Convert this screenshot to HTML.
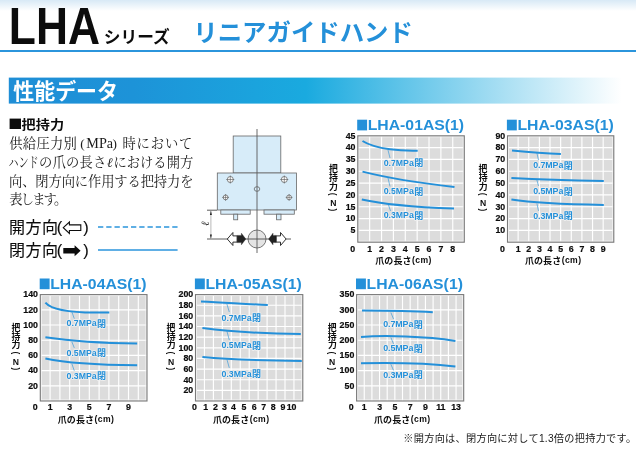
<!DOCTYPE html>
<html lang="ja"><head><meta charset="utf-8"><title>LHAシリーズ リニアガイドハンド 性能データ</title>
<style>
html,body{margin:0;padding:0;background:#fff}
body{font-family:"Liberation Sans",sans-serif}
#page{position:relative;width:636px;height:451px;overflow:hidden;background:#fff}
#page svg{position:absolute;left:0;top:0;will-change:transform}
.h{position:absolute;margin:0;padding:0;font-weight:400;color:transparent;white-space:nowrap;overflow:hidden;line-height:1.1;font-family:"Liberation Sans",sans-serif;pointer-events:none}
.v{writing-mode:vertical-rl}
</style></head><body>
<div id="page">
<svg width="636" height="451" viewBox="0 0 636 451">
<defs><linearGradient id="topg" x1="0" y1="0" x2="0" y2="1"><stop offset="0" stop-color="#d8e9f6"/><stop offset="1" stop-color="#ffffff"/></linearGradient><linearGradient id="barg" x1="0" y1="0" x2="1" y2="0"><stop offset="0" stop-color="#1f8ed6"/><stop offset="0.2" stop-color="#1d93d8"/><stop offset="0.48" stop-color="#1aaadf"/><stop offset="0.99" stop-color="#ffffff"/></linearGradient></defs>
<rect x="0" y="0" width="636" height="11" fill="url(#topg)"/>
<rect x="0" y="50" width="636" height="2" fill="#2b95dc"/>
<text x="8.8" y="43.7" font-family="'Liberation Sans', sans-serif" font-weight="700" font-size="52.4" fill="#0c0c0c" textLength="91.2" lengthAdjust="spacingAndGlyphs">LHA</text>
<text x="103.8" y="43.1" font-family="'Liberation Sans', 'Noto Sans CJK JP', sans-serif" font-weight="700" font-size="16.8" fill="#0c0c0c" textLength="65.9" lengthAdjust="spacingAndGlyphs">シリーズ</text>
<text x="193.3" y="41.3" font-family="'Liberation Sans', 'Noto Sans CJK JP', sans-serif" font-weight="700" font-size="24.4" fill="#2490d9" textLength="219.6" lengthAdjust="spacingAndGlyphs">リニアガイドハンド</text>
<rect x="8.8" y="77.6" width="619" height="26" fill="url(#barg)"/>
<text x="13.3" y="99.3" font-family="'Liberation Sans', 'Noto Sans CJK JP', sans-serif" font-weight="700" font-size="21.3" fill="#fff" textLength="104.6" lengthAdjust="spacingAndGlyphs">性能データ</text>
<rect x="9.6" y="118.6" width="11.4" height="10.4" fill="#0c0c0c"/>
<text x="21.6" y="128.9" font-family="'Liberation Sans', 'Noto Sans CJK JP', sans-serif" font-weight="700" font-size="12.6" fill="#0c0c0c" textLength="42.5" lengthAdjust="spacingAndGlyphs">把持力</text>
<g font-family="'Liberation Serif', 'Noto Serif CJK SC', serif" font-size="13.3" fill="#1a1a1a">
<text x="9.3" y="148" textLength="67.5" lengthAdjust="spacing">供給圧力別</text>
<text x="80.2" y="148">(</text>
</g>
<text x="86.3" y="147.7" font-family="Liberation Serif, serif" font-size="13.6" fill="#1a1a1a" textLength="26.8" lengthAdjust="spacingAndGlyphs">MPa</text>
<g font-family="'Liberation Serif', 'Noto Serif CJK SC', serif" font-size="13.3" fill="#1a1a1a">
<text x="112.6" y="148">)</text>
<text x="122.4" y="148" textLength="70" lengthAdjust="spacing">時において</text>
<text x="8.4" y="166.8" textLength="30.3" lengthAdjust="spacingAndGlyphs">ハンド</text>
<text x="38.9" y="166.8" textLength="67.4" lengthAdjust="spacing">の爪の長さ</text>
<text x="107" y="166.8" font-style="italic">ℓ</text>
<text x="113.4" y="166.8" textLength="79.9" lengthAdjust="spacing">における開方</text>
<text x="9" y="185.7" textLength="184.5" lengthAdjust="spacing">向、閉方向に作用する把持力を</text>
<text x="9.3" y="204.4" textLength="58" lengthAdjust="spacing">表します。</text>
</g>
<g font-family="'Liberation Sans', 'Noto Sans CJK JP', sans-serif" fill="#0c0c0c" stroke="#0c0c0c" stroke-width="0.12" stroke-linejoin="round">
<text x="8.9" y="233.2" font-size="16" textLength="49" lengthAdjust="spacing">開方向</text>
<text x="56.8" y="233.2" font-size="16.5">(</text>
<text x="83.2" y="233.2" font-size="16.5">)</text>
<text x="8.9" y="256.4" font-size="16" textLength="49" lengthAdjust="spacing">閉方向</text>
<text x="56.8" y="256.4" font-size="16.5">(</text>
<text x="83.2" y="256.4" font-size="16.5">)</text>
</g>
<path d="M63.3 227.7 L69.4 222 V224.9 H80.8 V230.5 H69.4 V233.4 Z" fill="#fff" stroke="#0c0c0c" stroke-width="1.1" stroke-linejoin="miter"/>
<path d="M63.3 248.1 H74.6 V245.3 L80.6 250.8 L74.6 256.3 V253.6 H63.3 Z" fill="#0c0c0c"/>
<line x1="98" y1="226.9" x2="177.6" y2="226.9" stroke="#2b95dc" stroke-width="1.5" stroke-dasharray="5.3 2.95"/>
<line x1="98" y1="249.9" x2="177.6" y2="249.9" stroke="#2b95dc" stroke-width="1.5"/>
<rect x="233.2" y="136" width="47.6" height="37" fill="#d7ecf9" stroke="#666" stroke-width="0.8"/><rect x="217.3" y="173" width="79.1" height="37" fill="#d7ecf9" stroke="#666" stroke-width="0.8"/><rect x="220.8" y="210" width="29.4" height="4.2" fill="#d7ecf9" stroke="#666" stroke-width="0.8"/><rect x="264" y="210" width="30.3" height="4.2" fill="#d7ecf9" stroke="#666" stroke-width="0.8"/><rect x="233.7" y="214.2" width="4" height="5.6" fill="#d7ecf9" stroke="#666" stroke-width="0.8"/><rect x="276.6" y="214.2" width="4.4" height="5.6" fill="#d7ecf9" stroke="#666" stroke-width="0.8"/><circle cx="230.3" cy="179.5" r="3.0" fill="#fff" stroke="#555" stroke-width="0.7"/><path d="M226.3 179.5h8.0 M230.3 175.5v8.0" stroke="#555" stroke-width="0.6"/><circle cx="284.3" cy="179.5" r="3.0" fill="#fff" stroke="#555" stroke-width="0.7"/><path d="M280.3 179.5h8.0 M284.3 175.5v8.0" stroke="#555" stroke-width="0.6"/><circle cx="225.6" cy="197.4" r="2.4" fill="#fff" stroke="#555" stroke-width="0.7"/><path d="M222.2 197.4h6.8 M225.6 194.0v6.8" stroke="#555" stroke-width="0.6"/><circle cx="289.1" cy="197.4" r="2.4" fill="#fff" stroke="#555" stroke-width="0.7"/><path d="M285.70000000000005 197.4h6.8 M289.1 194.0v6.8" stroke="#555" stroke-width="0.6"/><ellipse cx="257" cy="189" rx="2.8" ry="2.3" fill="#d7ecf9" stroke="#555" stroke-width="0.7"/><circle cx="257" cy="239" r="9" fill="#e4e4e4" stroke="#555" stroke-width="0.8"/><line x1="257" y1="129" x2="257" y2="253" stroke="#5a5a5a" stroke-width="0.9"/><line x1="207" y1="239" x2="291" y2="239" stroke="#4a4a4a" stroke-width="0.9"/><line x1="207" y1="210.2" x2="217" y2="210.2" stroke="#4a4a4a" stroke-width="0.9"/><line x1="210.9" y1="211" x2="210.9" y2="238.5" stroke="#888" stroke-width="0.6"/><path d="M210.9 210.7l-1 4.3h2z M210.9 238.8l-1 -4.3h2z" fill="#222"/><path d="M227.3 239 l5.6 -6.5 v3.4 h4.3 v6.2 h-4.3 v3.4z" fill="#fff" stroke="#1a1a1a" stroke-width="0.9"/><path d="M245.8 239 l-4.4 -5.8 v2.2 h-4.2 v7.2 h4.2 v2.2z" fill="#222" stroke="#222" stroke-width="0.4"/><path d="M268.6 239 l4.4 -5.8 v2.2 h3.2 v7.2 h-3.2 v2.2z" fill="#222" stroke="#222" stroke-width="0.4"/><path d="M286.1 239 l-5.6 -6.5 v3.4 h-4.3 v6.2 h4.3 v3.4z" fill="#fff" stroke="#1a1a1a" stroke-width="0.9"/><text transform="translate(209.0 226.6) rotate(-90)" x="0.5" y="0" font-family="'Liberation Serif', 'Noto Serif CJK SC', serif" font-style="italic" font-size="11" fill="#333">ℓ</text>
<rect x="357.8" y="135.8" width="106.5" height="106.4" fill="#dcdcdc"/><path d="M369.67 135.8V242.2M381.54 135.8V242.2M393.41 135.8V242.2M405.28 135.8V242.2M417.15 135.8V242.2M429.02 135.8V242.2M440.89 135.8V242.2M452.76 135.8V242.2M357.8 230.38H464.3M357.8 218.56H464.3M357.8 206.73H464.3M357.8 194.91H464.3M357.8 183.09H464.3M357.8 171.27H464.3M357.8 159.44H464.3M357.8 147.62H464.3" stroke="#fff" stroke-width="1.15" fill="none"/><rect x="358.8" y="136.8" width="104.5" height="104.4" fill="none" stroke="#f4f4f4" stroke-width="1"/><rect x="357.8" y="135.8" width="106.5" height="106.4" fill="none" stroke="#7a7a7a" stroke-width="1.1"/><text x="355.5" y="233.2" text-anchor="end" font-family="Liberation Sans, sans-serif" font-weight="700" font-size="8.8" fill="#0c0c0c" stroke="#0c0c0c" stroke-width="0.2">5</text><text x="355.5" y="221.4" text-anchor="end" font-family="Liberation Sans, sans-serif" font-weight="700" font-size="8.8" fill="#0c0c0c" stroke="#0c0c0c" stroke-width="0.2">10</text><text x="355.5" y="209.5" text-anchor="end" font-family="Liberation Sans, sans-serif" font-weight="700" font-size="8.8" fill="#0c0c0c" stroke="#0c0c0c" stroke-width="0.2">15</text><text x="355.5" y="197.7" text-anchor="end" font-family="Liberation Sans, sans-serif" font-weight="700" font-size="8.8" fill="#0c0c0c" stroke="#0c0c0c" stroke-width="0.2">20</text><text x="355.5" y="185.9" text-anchor="end" font-family="Liberation Sans, sans-serif" font-weight="700" font-size="8.8" fill="#0c0c0c" stroke="#0c0c0c" stroke-width="0.2">25</text><text x="355.5" y="174.1" text-anchor="end" font-family="Liberation Sans, sans-serif" font-weight="700" font-size="8.8" fill="#0c0c0c" stroke="#0c0c0c" stroke-width="0.2">30</text><text x="355.5" y="162.2" text-anchor="end" font-family="Liberation Sans, sans-serif" font-weight="700" font-size="8.8" fill="#0c0c0c" stroke="#0c0c0c" stroke-width="0.2">35</text><text x="355.5" y="150.4" text-anchor="end" font-family="Liberation Sans, sans-serif" font-weight="700" font-size="8.8" fill="#0c0c0c" stroke="#0c0c0c" stroke-width="0.2">40</text><text x="355.5" y="138.6" text-anchor="end" font-family="Liberation Sans, sans-serif" font-weight="700" font-size="8.8" fill="#0c0c0c" stroke="#0c0c0c" stroke-width="0.2">45</text><text x="369.7" y="251.6" text-anchor="middle" font-family="Liberation Sans, sans-serif" font-weight="700" font-size="8.8" fill="#0c0c0c" stroke="#0c0c0c" stroke-width="0.2">1</text><text x="381.5" y="251.6" text-anchor="middle" font-family="Liberation Sans, sans-serif" font-weight="700" font-size="8.8" fill="#0c0c0c" stroke="#0c0c0c" stroke-width="0.2">2</text><text x="393.4" y="251.6" text-anchor="middle" font-family="Liberation Sans, sans-serif" font-weight="700" font-size="8.8" fill="#0c0c0c" stroke="#0c0c0c" stroke-width="0.2">3</text><text x="405.3" y="251.6" text-anchor="middle" font-family="Liberation Sans, sans-serif" font-weight="700" font-size="8.8" fill="#0c0c0c" stroke="#0c0c0c" stroke-width="0.2">4</text><text x="417.1" y="251.6" text-anchor="middle" font-family="Liberation Sans, sans-serif" font-weight="700" font-size="8.8" fill="#0c0c0c" stroke="#0c0c0c" stroke-width="0.2">5</text><text x="429.0" y="251.6" text-anchor="middle" font-family="Liberation Sans, sans-serif" font-weight="700" font-size="8.8" fill="#0c0c0c" stroke="#0c0c0c" stroke-width="0.2">6</text><text x="440.9" y="251.6" text-anchor="middle" font-family="Liberation Sans, sans-serif" font-weight="700" font-size="8.8" fill="#0c0c0c" stroke="#0c0c0c" stroke-width="0.2">7</text><text x="452.8" y="251.6" text-anchor="middle" font-family="Liberation Sans, sans-serif" font-weight="700" font-size="8.8" fill="#0c0c0c" stroke="#0c0c0c" stroke-width="0.2">8</text><text x="352.8" y="251.6" text-anchor="middle" font-family="Liberation Sans, sans-serif" font-weight="700" font-size="8.8" fill="#0c0c0c" stroke="#0c0c0c" stroke-width="0.2">0</text><path d="M362.5 141 C368 144.5 378 147.6 390 149.2 S408 150.6 417.7 150.8" fill="none" stroke="#2490d9" stroke-width="2" stroke-linecap="butt"/><path d="M362.5 171.6 C380 176 410 182 454.5 187" fill="none" stroke="#2490d9" stroke-width="2" stroke-linecap="butt"/><path d="M361.8 199.4 C380 203.5 410 206.8 454 208.6" fill="none" stroke="#2490d9" stroke-width="2" stroke-linecap="butt"/>
<rect x="357.2" y="119.7" width="9.9" height="10.7" fill="#2490d9"/>
<text x="367.7" y="130.3" font-family="'Liberation Sans', sans-serif" font-weight="700" font-size="14.4" fill="#2490d9" textLength="96.4" lengthAdjust="spacingAndGlyphs">LHA-01AS(1)</text>
<text font-family="'Liberation Sans', 'Noto Sans CJK JP', sans-serif" font-weight="700" font-size="8.9" fill="#0c0c0c"><tspan x="328.9" y="172.4">把</tspan><tspan x="329.0" y="180.9">持</tspan><tspan x="329.1" y="189.5">力</tspan></text>
<text transform="translate(333.40 194.40) rotate(90)" x="-0.3" y="3.16" text-anchor="middle" font-family="'Liberation Sans', sans-serif" font-weight="700" font-size="8.3" fill="#0c0c0c">(</text>
<text transform="translate(333.40 210.20) rotate(90)" x="-0.25" y="3.16" text-anchor="middle" font-family="'Liberation Sans', sans-serif" font-weight="700" font-size="8.3" fill="#0c0c0c">)</text>
<text x="333.4" y="206.4" text-anchor="middle" font-family="Liberation Sans, sans-serif" font-weight="700" font-size="8.6" fill="#0c0c0c">N</text>
<text x="375.2" y="263.9" font-family="'Liberation Sans', 'Noto Sans CJK JP', sans-serif" font-weight="700" font-size="9" fill="#0c0c0c" textLength="36.3" lengthAdjust="spacing">爪の長さ</text>
<text x="412.0" y="263.4" font-family="Liberation Sans, sans-serif" font-weight="700" font-size="8.6" fill="#0c0c0c" textLength="19.3" lengthAdjust="spacing">(cm)</text>
<line x1="388.0" y1="150.0" x2="390.0" y2="158.0" stroke="#2490d9" stroke-width="0.6"/>
<text x="383.7" y="165.5" font-family="Liberation Sans, sans-serif" font-weight="700" font-size="8.9" fill="#2490d9" stroke="#efefef" stroke-width="1.6" stroke-linejoin="round" paint-order="stroke" textLength="30.2" lengthAdjust="spacing">0.7MPa</text>
<text x="414.17" y="166.1" font-family="'Liberation Sans', 'Noto Sans CJK JP', sans-serif" font-weight="700" font-size="9" fill="#2490d9" stroke="#efefef" stroke-width="1.6" stroke-linejoin="round" paint-order="stroke">閉</text>
<line x1="388.0" y1="178.0" x2="390.0" y2="186.5" stroke="#2490d9" stroke-width="0.6"/>
<text x="383.7" y="194.3" font-family="Liberation Sans, sans-serif" font-weight="700" font-size="8.9" fill="#2490d9" stroke="#efefef" stroke-width="1.6" stroke-linejoin="round" paint-order="stroke" textLength="30.2" lengthAdjust="spacing">0.5MPa</text>
<text x="414.17" y="194.9" font-family="'Liberation Sans', 'Noto Sans CJK JP', sans-serif" font-weight="700" font-size="9" fill="#2490d9" stroke="#efefef" stroke-width="1.6" stroke-linejoin="round" paint-order="stroke">閉</text>
<line x1="388.5" y1="205.0" x2="390.5" y2="211.0" stroke="#2490d9" stroke-width="0.6"/>
<text x="383.7" y="218.4" font-family="Liberation Sans, sans-serif" font-weight="700" font-size="8.9" fill="#2490d9" stroke="#efefef" stroke-width="1.6" stroke-linejoin="round" paint-order="stroke" textLength="30.2" lengthAdjust="spacing">0.3MPa</text>
<text x="414.17" y="219.0" font-family="'Liberation Sans', 'Noto Sans CJK JP', sans-serif" font-weight="700" font-size="9" fill="#2490d9" stroke="#efefef" stroke-width="1.6" stroke-linejoin="round" paint-order="stroke">閉</text>
<rect x="507.5" y="135.8" width="106.3" height="106.4" fill="#dcdcdc"/><path d="M518.13 135.8V242.2M528.76 135.8V242.2M539.39 135.8V242.2M550.02 135.8V242.2M560.65 135.8V242.2M571.28 135.8V242.2M581.91 135.8V242.2M592.54 135.8V242.2M603.17 135.8V242.2M507.5 230.38H613.8M507.5 218.56H613.8M507.5 206.73H613.8M507.5 194.91H613.8M507.5 183.09H613.8M507.5 171.27H613.8M507.5 159.44H613.8M507.5 147.62H613.8" stroke="#fff" stroke-width="1.15" fill="none"/><rect x="508.5" y="136.8" width="104.3" height="104.4" fill="none" stroke="#f4f4f4" stroke-width="1"/><rect x="507.5" y="135.8" width="106.3" height="106.4" fill="none" stroke="#7a7a7a" stroke-width="1.1"/><text x="505.2" y="233.2" text-anchor="end" font-family="Liberation Sans, sans-serif" font-weight="700" font-size="8.8" fill="#0c0c0c" stroke="#0c0c0c" stroke-width="0.2">10</text><text x="505.2" y="221.4" text-anchor="end" font-family="Liberation Sans, sans-serif" font-weight="700" font-size="8.8" fill="#0c0c0c" stroke="#0c0c0c" stroke-width="0.2">20</text><text x="505.2" y="209.5" text-anchor="end" font-family="Liberation Sans, sans-serif" font-weight="700" font-size="8.8" fill="#0c0c0c" stroke="#0c0c0c" stroke-width="0.2">30</text><text x="505.2" y="197.7" text-anchor="end" font-family="Liberation Sans, sans-serif" font-weight="700" font-size="8.8" fill="#0c0c0c" stroke="#0c0c0c" stroke-width="0.2">40</text><text x="505.2" y="185.9" text-anchor="end" font-family="Liberation Sans, sans-serif" font-weight="700" font-size="8.8" fill="#0c0c0c" stroke="#0c0c0c" stroke-width="0.2">50</text><text x="505.2" y="174.1" text-anchor="end" font-family="Liberation Sans, sans-serif" font-weight="700" font-size="8.8" fill="#0c0c0c" stroke="#0c0c0c" stroke-width="0.2">60</text><text x="505.2" y="162.2" text-anchor="end" font-family="Liberation Sans, sans-serif" font-weight="700" font-size="8.8" fill="#0c0c0c" stroke="#0c0c0c" stroke-width="0.2">70</text><text x="505.2" y="150.4" text-anchor="end" font-family="Liberation Sans, sans-serif" font-weight="700" font-size="8.8" fill="#0c0c0c" stroke="#0c0c0c" stroke-width="0.2">80</text><text x="505.2" y="138.6" text-anchor="end" font-family="Liberation Sans, sans-serif" font-weight="700" font-size="8.8" fill="#0c0c0c" stroke="#0c0c0c" stroke-width="0.2">90</text><text x="518.1" y="251.6" text-anchor="middle" font-family="Liberation Sans, sans-serif" font-weight="700" font-size="8.8" fill="#0c0c0c" stroke="#0c0c0c" stroke-width="0.2">1</text><text x="528.8" y="251.6" text-anchor="middle" font-family="Liberation Sans, sans-serif" font-weight="700" font-size="8.8" fill="#0c0c0c" stroke="#0c0c0c" stroke-width="0.2">2</text><text x="539.4" y="251.6" text-anchor="middle" font-family="Liberation Sans, sans-serif" font-weight="700" font-size="8.8" fill="#0c0c0c" stroke="#0c0c0c" stroke-width="0.2">3</text><text x="550.0" y="251.6" text-anchor="middle" font-family="Liberation Sans, sans-serif" font-weight="700" font-size="8.8" fill="#0c0c0c" stroke="#0c0c0c" stroke-width="0.2">4</text><text x="560.6" y="251.6" text-anchor="middle" font-family="Liberation Sans, sans-serif" font-weight="700" font-size="8.8" fill="#0c0c0c" stroke="#0c0c0c" stroke-width="0.2">5</text><text x="571.3" y="251.6" text-anchor="middle" font-family="Liberation Sans, sans-serif" font-weight="700" font-size="8.8" fill="#0c0c0c" stroke="#0c0c0c" stroke-width="0.2">6</text><text x="581.9" y="251.6" text-anchor="middle" font-family="Liberation Sans, sans-serif" font-weight="700" font-size="8.8" fill="#0c0c0c" stroke="#0c0c0c" stroke-width="0.2">7</text><text x="592.5" y="251.6" text-anchor="middle" font-family="Liberation Sans, sans-serif" font-weight="700" font-size="8.8" fill="#0c0c0c" stroke="#0c0c0c" stroke-width="0.2">8</text><text x="603.2" y="251.6" text-anchor="middle" font-family="Liberation Sans, sans-serif" font-weight="700" font-size="8.8" fill="#0c0c0c" stroke="#0c0c0c" stroke-width="0.2">9</text><text x="502.5" y="251.6" text-anchor="middle" font-family="Liberation Sans, sans-serif" font-weight="700" font-size="8.8" fill="#0c0c0c" stroke="#0c0c0c" stroke-width="0.2">0</text><path d="M512 150.4 C528 152 545 153.4 560.9 154" fill="none" stroke="#2490d9" stroke-width="2" stroke-linecap="butt"/><path d="M511.4 177.9 C540 179.4 570 180.3 603.8 180.9" fill="none" stroke="#2490d9" stroke-width="2" stroke-linecap="butt"/><path d="M511.4 199.5 C530 202.5 565 204.3 603.8 204.9" fill="none" stroke="#2490d9" stroke-width="2" stroke-linecap="butt"/>
<rect x="506.9" y="119.7" width="9.9" height="10.7" fill="#2490d9"/>
<text x="517.4" y="130.3" font-family="'Liberation Sans', sans-serif" font-weight="700" font-size="14.4" fill="#2490d9" textLength="96.4" lengthAdjust="spacingAndGlyphs">LHA-03AS(1)</text>
<text font-family="'Liberation Sans', 'Noto Sans CJK JP', sans-serif" font-weight="700" font-size="8.9" fill="#0c0c0c"><tspan x="478.6" y="172.4">把</tspan><tspan x="478.7" y="180.9">持</tspan><tspan x="478.8" y="189.5">力</tspan></text>
<text transform="translate(483.10 194.40) rotate(90)" x="-0.3" y="3.16" text-anchor="middle" font-family="'Liberation Sans', sans-serif" font-weight="700" font-size="8.3" fill="#0c0c0c">(</text>
<text transform="translate(483.10 210.20) rotate(90)" x="-0.25" y="3.16" text-anchor="middle" font-family="'Liberation Sans', sans-serif" font-weight="700" font-size="8.3" fill="#0c0c0c">)</text>
<text x="483.1" y="206.4" text-anchor="middle" font-family="Liberation Sans, sans-serif" font-weight="700" font-size="8.6" fill="#0c0c0c">N</text>
<text x="524.9" y="263.9" font-family="'Liberation Sans', 'Noto Sans CJK JP', sans-serif" font-weight="700" font-size="9" fill="#0c0c0c" textLength="36.3" lengthAdjust="spacing">爪の長さ</text>
<text x="561.7" y="263.4" font-family="Liberation Sans, sans-serif" font-weight="700" font-size="8.6" fill="#0c0c0c" textLength="19.3" lengthAdjust="spacing">(cm)</text>
<line x1="536.9" y1="153.0" x2="538.5" y2="160.0" stroke="#2490d9" stroke-width="0.6"/>
<text x="533.2" y="167.9" font-family="Liberation Sans, sans-serif" font-weight="700" font-size="8.9" fill="#2490d9" stroke="#efefef" stroke-width="1.6" stroke-linejoin="round" paint-order="stroke" textLength="30.2" lengthAdjust="spacing">0.7MPa</text>
<text x="563.67" y="168.5" font-family="'Liberation Sans', 'Noto Sans CJK JP', sans-serif" font-weight="700" font-size="9" fill="#2490d9" stroke="#efefef" stroke-width="1.6" stroke-linejoin="round" paint-order="stroke">閉</text>
<line x1="536.9" y1="180.0" x2="538.5" y2="186.0" stroke="#2490d9" stroke-width="0.6"/>
<text x="533.2" y="193.9" font-family="Liberation Sans, sans-serif" font-weight="700" font-size="8.9" fill="#2490d9" stroke="#efefef" stroke-width="1.6" stroke-linejoin="round" paint-order="stroke" textLength="30.2" lengthAdjust="spacing">0.5MPa</text>
<text x="563.67" y="194.5" font-family="'Liberation Sans', 'Noto Sans CJK JP', sans-serif" font-weight="700" font-size="9" fill="#2490d9" stroke="#efefef" stroke-width="1.6" stroke-linejoin="round" paint-order="stroke">閉</text>
<line x1="536.9" y1="203.5" x2="538.5" y2="210.9" stroke="#2490d9" stroke-width="0.6"/>
<text x="533.2" y="218.8" font-family="Liberation Sans, sans-serif" font-weight="700" font-size="8.9" fill="#2490d9" stroke="#efefef" stroke-width="1.6" stroke-linejoin="round" paint-order="stroke" textLength="30.2" lengthAdjust="spacing">0.3MPa</text>
<text x="563.67" y="219.4" font-family="'Liberation Sans', 'Noto Sans CJK JP', sans-serif" font-weight="700" font-size="9" fill="#2490d9" stroke="#efefef" stroke-width="1.6" stroke-linejoin="round" paint-order="stroke">閉</text>
<rect x="40.3" y="294.6" width="106.7" height="106.4" fill="#dcdcdc"/><path d="M50.10 294.6V401.0M59.90 294.6V401.0M69.70 294.6V401.0M79.50 294.6V401.0M89.30 294.6V401.0M99.10 294.6V401.0M108.90 294.6V401.0M118.70 294.6V401.0M128.50 294.6V401.0M138.30 294.6V401.0M40.3 385.80H147.0M40.3 370.60H147.0M40.3 355.40H147.0M40.3 340.20H147.0M40.3 325.00H147.0M40.3 309.80H147.0" stroke="#fff" stroke-width="1.15" fill="none"/><rect x="41.3" y="295.6" width="104.7" height="104.4" fill="none" stroke="#f4f4f4" stroke-width="1"/><rect x="40.3" y="294.6" width="106.7" height="106.4" fill="none" stroke="#7a7a7a" stroke-width="1.1"/><text x="38.0" y="388.6" text-anchor="end" font-family="Liberation Sans, sans-serif" font-weight="700" font-size="8.8" fill="#0c0c0c" stroke="#0c0c0c" stroke-width="0.2">20</text><text x="38.0" y="373.4" text-anchor="end" font-family="Liberation Sans, sans-serif" font-weight="700" font-size="8.8" fill="#0c0c0c" stroke="#0c0c0c" stroke-width="0.2">40</text><text x="38.0" y="358.2" text-anchor="end" font-family="Liberation Sans, sans-serif" font-weight="700" font-size="8.8" fill="#0c0c0c" stroke="#0c0c0c" stroke-width="0.2">60</text><text x="38.0" y="343.0" text-anchor="end" font-family="Liberation Sans, sans-serif" font-weight="700" font-size="8.8" fill="#0c0c0c" stroke="#0c0c0c" stroke-width="0.2">80</text><text x="38.0" y="327.8" text-anchor="end" font-family="Liberation Sans, sans-serif" font-weight="700" font-size="8.8" fill="#0c0c0c" stroke="#0c0c0c" stroke-width="0.2">100</text><text x="38.0" y="312.6" text-anchor="end" font-family="Liberation Sans, sans-serif" font-weight="700" font-size="8.8" fill="#0c0c0c" stroke="#0c0c0c" stroke-width="0.2">120</text><text x="38.0" y="297.4" text-anchor="end" font-family="Liberation Sans, sans-serif" font-weight="700" font-size="8.8" fill="#0c0c0c" stroke="#0c0c0c" stroke-width="0.2">140</text><text x="50.1" y="409.8" text-anchor="middle" font-family="Liberation Sans, sans-serif" font-weight="700" font-size="8.8" fill="#0c0c0c" stroke="#0c0c0c" stroke-width="0.2">1</text><text x="69.7" y="409.8" text-anchor="middle" font-family="Liberation Sans, sans-serif" font-weight="700" font-size="8.8" fill="#0c0c0c" stroke="#0c0c0c" stroke-width="0.2">3</text><text x="89.3" y="409.8" text-anchor="middle" font-family="Liberation Sans, sans-serif" font-weight="700" font-size="8.8" fill="#0c0c0c" stroke="#0c0c0c" stroke-width="0.2">5</text><text x="108.9" y="409.8" text-anchor="middle" font-family="Liberation Sans, sans-serif" font-weight="700" font-size="8.8" fill="#0c0c0c" stroke="#0c0c0c" stroke-width="0.2">7</text><text x="128.5" y="409.8" text-anchor="middle" font-family="Liberation Sans, sans-serif" font-weight="700" font-size="8.8" fill="#0c0c0c" stroke="#0c0c0c" stroke-width="0.2">9</text><text x="35.3" y="409.8" text-anchor="middle" font-family="Liberation Sans, sans-serif" font-weight="700" font-size="8.8" fill="#0c0c0c" stroke="#0c0c0c" stroke-width="0.2">0</text><path d="M45.4 302.6 C50 308 62 312.4 94.9 312.6 L109.3 312.6" fill="none" stroke="#2490d9" stroke-width="2" stroke-linecap="butt"/><path d="M45.4 337.3 C70 341 100 343.2 137.2 343.5" fill="none" stroke="#2490d9" stroke-width="2" stroke-linecap="butt"/><path d="M45.4 358.5 C65 362.8 100 365 137.2 365.3" fill="none" stroke="#2490d9" stroke-width="2" stroke-linecap="butt"/>
<rect x="39.7" y="278.5" width="9.9" height="10.7" fill="#2490d9"/>
<text x="50.2" y="289.1" font-family="'Liberation Sans', sans-serif" font-weight="700" font-size="14.4" fill="#2490d9" textLength="96.4" lengthAdjust="spacingAndGlyphs">LHA-04AS(1)</text>
<text font-family="'Liberation Sans', 'Noto Sans CJK JP', sans-serif" font-weight="700" font-size="8.9" fill="#0c0c0c"><tspan x="11.4" y="331.2">把</tspan><tspan x="11.5" y="339.7">持</tspan><tspan x="11.6" y="348.3">力</tspan></text>
<text transform="translate(15.90 353.20) rotate(90)" x="-0.3" y="3.16" text-anchor="middle" font-family="'Liberation Sans', sans-serif" font-weight="700" font-size="8.3" fill="#0c0c0c">(</text>
<text transform="translate(15.90 369.00) rotate(90)" x="-0.25" y="3.16" text-anchor="middle" font-family="'Liberation Sans', sans-serif" font-weight="700" font-size="8.3" fill="#0c0c0c">)</text>
<text x="15.9" y="365.2" text-anchor="middle" font-family="Liberation Sans, sans-serif" font-weight="700" font-size="8.6" fill="#0c0c0c">N</text>
<text x="57.7" y="422.7" font-family="'Liberation Sans', 'Noto Sans CJK JP', sans-serif" font-weight="700" font-size="9" fill="#0c0c0c" textLength="36.3" lengthAdjust="spacing">爪の長さ</text>
<text x="94.5" y="422.2" font-family="Liberation Sans, sans-serif" font-weight="700" font-size="8.6" fill="#0c0c0c" textLength="19.3" lengthAdjust="spacing">(cm)</text>
<line x1="71.9" y1="312.0" x2="74.3" y2="318.6" stroke="#2490d9" stroke-width="0.6"/>
<text x="66.6" y="326.3" font-family="Liberation Sans, sans-serif" font-weight="700" font-size="8.9" fill="#2490d9" stroke="#efefef" stroke-width="1.6" stroke-linejoin="round" paint-order="stroke" textLength="30.2" lengthAdjust="spacing">0.7MPa</text>
<text x="97.07" y="326.9" font-family="'Liberation Sans', 'Noto Sans CJK JP', sans-serif" font-weight="700" font-size="9" fill="#2490d9" stroke="#efefef" stroke-width="1.6" stroke-linejoin="round" paint-order="stroke">閉</text>
<line x1="71.9" y1="341.9" x2="74.3" y2="347.9" stroke="#2490d9" stroke-width="0.6"/>
<text x="66.6" y="355.5" font-family="Liberation Sans, sans-serif" font-weight="700" font-size="8.9" fill="#2490d9" stroke="#efefef" stroke-width="1.6" stroke-linejoin="round" paint-order="stroke" textLength="30.2" lengthAdjust="spacing">0.5MPa</text>
<text x="97.07" y="356.1" font-family="'Liberation Sans', 'Noto Sans CJK JP', sans-serif" font-weight="700" font-size="9" fill="#2490d9" stroke="#efefef" stroke-width="1.6" stroke-linejoin="round" paint-order="stroke">閉</text>
<line x1="71.9" y1="363.9" x2="74.3" y2="370.8" stroke="#2490d9" stroke-width="0.6"/>
<text x="66.6" y="378.8" font-family="Liberation Sans, sans-serif" font-weight="700" font-size="8.9" fill="#2490d9" stroke="#efefef" stroke-width="1.6" stroke-linejoin="round" paint-order="stroke" textLength="30.2" lengthAdjust="spacing">0.3MPa</text>
<text x="97.07" y="379.4" font-family="'Liberation Sans', 'Noto Sans CJK JP', sans-serif" font-weight="700" font-size="9" fill="#2490d9" stroke="#efefef" stroke-width="1.6" stroke-linejoin="round" paint-order="stroke">閉</text>
<rect x="195.5" y="294.6" width="107.3" height="106.4" fill="#dcdcdc"/><path d="M204.45 294.6V401.0M213.40 294.6V401.0M222.35 294.6V401.0M231.30 294.6V401.0M240.25 294.6V401.0M249.20 294.6V401.0M258.15 294.6V401.0M267.10 294.6V401.0M276.05 294.6V401.0M285.00 294.6V401.0M293.95 294.6V401.0M195.5 390.36H302.8M195.5 379.72H302.8M195.5 369.08H302.8M195.5 358.44H302.8M195.5 347.80H302.8M195.5 337.16H302.8M195.5 326.52H302.8M195.5 315.88H302.8M195.5 305.24H302.8" stroke="#fff" stroke-width="1.15" fill="none"/><rect x="196.5" y="295.6" width="105.3" height="104.4" fill="none" stroke="#f4f4f4" stroke-width="1"/><rect x="195.5" y="294.6" width="107.3" height="106.4" fill="none" stroke="#7a7a7a" stroke-width="1.1"/><text x="193.2" y="393.2" text-anchor="end" font-family="Liberation Sans, sans-serif" font-weight="700" font-size="8.8" fill="#0c0c0c" stroke="#0c0c0c" stroke-width="0.2">20</text><text x="193.2" y="382.5" text-anchor="end" font-family="Liberation Sans, sans-serif" font-weight="700" font-size="8.8" fill="#0c0c0c" stroke="#0c0c0c" stroke-width="0.2">40</text><text x="193.2" y="371.9" text-anchor="end" font-family="Liberation Sans, sans-serif" font-weight="700" font-size="8.8" fill="#0c0c0c" stroke="#0c0c0c" stroke-width="0.2">60</text><text x="193.2" y="361.2" text-anchor="end" font-family="Liberation Sans, sans-serif" font-weight="700" font-size="8.8" fill="#0c0c0c" stroke="#0c0c0c" stroke-width="0.2">80</text><text x="193.2" y="350.6" text-anchor="end" font-family="Liberation Sans, sans-serif" font-weight="700" font-size="8.8" fill="#0c0c0c" stroke="#0c0c0c" stroke-width="0.2">100</text><text x="193.2" y="340.0" text-anchor="end" font-family="Liberation Sans, sans-serif" font-weight="700" font-size="8.8" fill="#0c0c0c" stroke="#0c0c0c" stroke-width="0.2">120</text><text x="193.2" y="329.3" text-anchor="end" font-family="Liberation Sans, sans-serif" font-weight="700" font-size="8.8" fill="#0c0c0c" stroke="#0c0c0c" stroke-width="0.2">140</text><text x="193.2" y="318.7" text-anchor="end" font-family="Liberation Sans, sans-serif" font-weight="700" font-size="8.8" fill="#0c0c0c" stroke="#0c0c0c" stroke-width="0.2">160</text><text x="193.2" y="308.0" text-anchor="end" font-family="Liberation Sans, sans-serif" font-weight="700" font-size="8.8" fill="#0c0c0c" stroke="#0c0c0c" stroke-width="0.2">180</text><text x="193.2" y="297.4" text-anchor="end" font-family="Liberation Sans, sans-serif" font-weight="700" font-size="8.8" fill="#0c0c0c" stroke="#0c0c0c" stroke-width="0.2">200</text><text x="205.8" y="409.8" text-anchor="middle" font-family="Liberation Sans, sans-serif" font-weight="700" font-size="8.8" fill="#0c0c0c" stroke="#0c0c0c" stroke-width="0.2">1</text><text x="215.4" y="409.8" text-anchor="middle" font-family="Liberation Sans, sans-serif" font-weight="700" font-size="8.8" fill="#0c0c0c" stroke="#0c0c0c" stroke-width="0.2">2</text><text x="224.5" y="409.8" text-anchor="middle" font-family="Liberation Sans, sans-serif" font-weight="700" font-size="8.8" fill="#0c0c0c" stroke="#0c0c0c" stroke-width="0.2">3</text><text x="233.5" y="409.8" text-anchor="middle" font-family="Liberation Sans, sans-serif" font-weight="700" font-size="8.8" fill="#0c0c0c" stroke="#0c0c0c" stroke-width="0.2">4</text><text x="244.0" y="409.8" text-anchor="middle" font-family="Liberation Sans, sans-serif" font-weight="700" font-size="8.8" fill="#0c0c0c" stroke="#0c0c0c" stroke-width="0.2">5</text><text x="254.2" y="409.8" text-anchor="middle" font-family="Liberation Sans, sans-serif" font-weight="700" font-size="8.8" fill="#0c0c0c" stroke="#0c0c0c" stroke-width="0.2">6</text><text x="263.6" y="409.8" text-anchor="middle" font-family="Liberation Sans, sans-serif" font-weight="700" font-size="8.8" fill="#0c0c0c" stroke="#0c0c0c" stroke-width="0.2">7</text><text x="273.1" y="409.8" text-anchor="middle" font-family="Liberation Sans, sans-serif" font-weight="700" font-size="8.8" fill="#0c0c0c" stroke="#0c0c0c" stroke-width="0.2">8</text><text x="282.9" y="409.8" text-anchor="middle" font-family="Liberation Sans, sans-serif" font-weight="700" font-size="8.8" fill="#0c0c0c" stroke="#0c0c0c" stroke-width="0.2">9</text><text x="291.6" y="409.8" text-anchor="middle" font-family="Liberation Sans, sans-serif" font-weight="700" font-size="8.8" fill="#0c0c0c" stroke="#0c0c0c" stroke-width="0.2">10</text><text x="194.5" y="409.8" text-anchor="middle" font-family="Liberation Sans, sans-serif" font-weight="700" font-size="8.8" fill="#0c0c0c" stroke="#0c0c0c" stroke-width="0.2">0</text><path d="M201 301.4 C225 302.5 245 304 267.8 305" fill="none" stroke="#2490d9" stroke-width="2" stroke-linecap="butt"/><path d="M202.4 327.9 C230 331.5 265 333.6 300.8 334.1" fill="none" stroke="#2490d9" stroke-width="2" stroke-linecap="butt"/><path d="M202.4 356.9 C230 359.6 265 360.6 301.8 360.9" fill="none" stroke="#2490d9" stroke-width="2" stroke-linecap="butt"/>
<rect x="194.9" y="278.5" width="9.9" height="10.7" fill="#2490d9"/>
<text x="205.4" y="289.1" font-family="'Liberation Sans', sans-serif" font-weight="700" font-size="14.4" fill="#2490d9" textLength="96.4" lengthAdjust="spacingAndGlyphs">LHA-05AS(1)</text>
<text font-family="'Liberation Sans', 'Noto Sans CJK JP', sans-serif" font-weight="700" font-size="8.9" fill="#0c0c0c"><tspan x="166.6" y="331.2">把</tspan><tspan x="166.7" y="339.7">持</tspan><tspan x="166.8" y="348.3">力</tspan></text>
<text transform="translate(171.10 353.20) rotate(90)" x="-0.3" y="3.16" text-anchor="middle" font-family="'Liberation Sans', sans-serif" font-weight="700" font-size="8.3" fill="#0c0c0c">(</text>
<text transform="translate(171.10 369.00) rotate(90)" x="-0.25" y="3.16" text-anchor="middle" font-family="'Liberation Sans', sans-serif" font-weight="700" font-size="8.3" fill="#0c0c0c">)</text>
<text x="171.1" y="365.2" text-anchor="middle" font-family="Liberation Sans, sans-serif" font-weight="700" font-size="8.6" fill="#0c0c0c">N</text>
<text x="212.9" y="422.7" font-family="'Liberation Sans', 'Noto Sans CJK JP', sans-serif" font-weight="700" font-size="9" fill="#0c0c0c" textLength="36.3" lengthAdjust="spacing">爪の長さ</text>
<text x="249.7" y="422.2" font-family="Liberation Sans, sans-serif" font-weight="700" font-size="8.6" fill="#0c0c0c" textLength="19.3" lengthAdjust="spacing">(cm)</text>
<line x1="226.9" y1="304.0" x2="229.3" y2="312.0" stroke="#2490d9" stroke-width="0.6"/>
<text x="221.6" y="320.5" font-family="Liberation Sans, sans-serif" font-weight="700" font-size="8.9" fill="#2490d9" stroke="#efefef" stroke-width="1.6" stroke-linejoin="round" paint-order="stroke" textLength="30.2" lengthAdjust="spacing">0.7MPa</text>
<text x="252.07" y="321.1" font-family="'Liberation Sans', 'Noto Sans CJK JP', sans-serif" font-weight="700" font-size="9" fill="#2490d9" stroke="#efefef" stroke-width="1.6" stroke-linejoin="round" paint-order="stroke">閉</text>
<line x1="226.9" y1="331.0" x2="229.3" y2="340.0" stroke="#2490d9" stroke-width="0.6"/>
<text x="221.6" y="348.3" font-family="Liberation Sans, sans-serif" font-weight="700" font-size="8.9" fill="#2490d9" stroke="#efefef" stroke-width="1.6" stroke-linejoin="round" paint-order="stroke" textLength="30.2" lengthAdjust="spacing">0.5MPa</text>
<text x="252.07" y="348.9" font-family="'Liberation Sans', 'Noto Sans CJK JP', sans-serif" font-weight="700" font-size="9" fill="#2490d9" stroke="#efefef" stroke-width="1.6" stroke-linejoin="round" paint-order="stroke">閉</text>
<line x1="226.9" y1="359.3" x2="229.3" y2="367.9" stroke="#2490d9" stroke-width="0.6"/>
<text x="221.6" y="376.8" font-family="Liberation Sans, sans-serif" font-weight="700" font-size="8.9" fill="#2490d9" stroke="#efefef" stroke-width="1.6" stroke-linejoin="round" paint-order="stroke" textLength="30.2" lengthAdjust="spacing">0.3MPa</text>
<text x="252.07" y="377.4" font-family="'Liberation Sans', 'Noto Sans CJK JP', sans-serif" font-weight="700" font-size="9" fill="#2490d9" stroke="#efefef" stroke-width="1.6" stroke-linejoin="round" paint-order="stroke">閉</text>
<rect x="356.6" y="294.6" width="107.1" height="106.4" fill="#dcdcdc"/><path d="M364.25 294.6V401.0M371.90 294.6V401.0M379.55 294.6V401.0M387.20 294.6V401.0M394.85 294.6V401.0M402.50 294.6V401.0M410.15 294.6V401.0M417.80 294.6V401.0M425.45 294.6V401.0M433.10 294.6V401.0M440.75 294.6V401.0M448.40 294.6V401.0M456.05 294.6V401.0M356.6 385.80H463.7M356.6 370.60H463.7M356.6 355.40H463.7M356.6 340.20H463.7M356.6 325.00H463.7M356.6 309.80H463.7" stroke="#fff" stroke-width="1.15" fill="none"/><rect x="357.6" y="295.6" width="105.1" height="104.4" fill="none" stroke="#f4f4f4" stroke-width="1"/><rect x="356.6" y="294.6" width="107.1" height="106.4" fill="none" stroke="#7a7a7a" stroke-width="1.1"/><text x="354.3" y="388.6" text-anchor="end" font-family="Liberation Sans, sans-serif" font-weight="700" font-size="8.8" fill="#0c0c0c" stroke="#0c0c0c" stroke-width="0.2">50</text><text x="354.3" y="373.4" text-anchor="end" font-family="Liberation Sans, sans-serif" font-weight="700" font-size="8.8" fill="#0c0c0c" stroke="#0c0c0c" stroke-width="0.2">100</text><text x="354.3" y="358.2" text-anchor="end" font-family="Liberation Sans, sans-serif" font-weight="700" font-size="8.8" fill="#0c0c0c" stroke="#0c0c0c" stroke-width="0.2">150</text><text x="354.3" y="343.0" text-anchor="end" font-family="Liberation Sans, sans-serif" font-weight="700" font-size="8.8" fill="#0c0c0c" stroke="#0c0c0c" stroke-width="0.2">200</text><text x="354.3" y="327.8" text-anchor="end" font-family="Liberation Sans, sans-serif" font-weight="700" font-size="8.8" fill="#0c0c0c" stroke="#0c0c0c" stroke-width="0.2">250</text><text x="354.3" y="312.6" text-anchor="end" font-family="Liberation Sans, sans-serif" font-weight="700" font-size="8.8" fill="#0c0c0c" stroke="#0c0c0c" stroke-width="0.2">300</text><text x="354.3" y="297.4" text-anchor="end" font-family="Liberation Sans, sans-serif" font-weight="700" font-size="8.8" fill="#0c0c0c" stroke="#0c0c0c" stroke-width="0.2">350</text><text x="364.2" y="409.8" text-anchor="middle" font-family="Liberation Sans, sans-serif" font-weight="700" font-size="8.8" fill="#0c0c0c" stroke="#0c0c0c" stroke-width="0.2">1</text><text x="379.6" y="409.8" text-anchor="middle" font-family="Liberation Sans, sans-serif" font-weight="700" font-size="8.8" fill="#0c0c0c" stroke="#0c0c0c" stroke-width="0.2">3</text><text x="394.9" y="409.8" text-anchor="middle" font-family="Liberation Sans, sans-serif" font-weight="700" font-size="8.8" fill="#0c0c0c" stroke="#0c0c0c" stroke-width="0.2">5</text><text x="410.2" y="409.8" text-anchor="middle" font-family="Liberation Sans, sans-serif" font-weight="700" font-size="8.8" fill="#0c0c0c" stroke="#0c0c0c" stroke-width="0.2">7</text><text x="425.5" y="409.8" text-anchor="middle" font-family="Liberation Sans, sans-serif" font-weight="700" font-size="8.8" fill="#0c0c0c" stroke="#0c0c0c" stroke-width="0.2">9</text><text x="440.8" y="409.8" text-anchor="middle" font-family="Liberation Sans, sans-serif" font-weight="700" font-size="8.8" fill="#0c0c0c" stroke="#0c0c0c" stroke-width="0.2">11</text><text x="456.1" y="409.8" text-anchor="middle" font-family="Liberation Sans, sans-serif" font-weight="700" font-size="8.8" fill="#0c0c0c" stroke="#0c0c0c" stroke-width="0.2">13</text><text x="351.1" y="409.8" text-anchor="middle" font-family="Liberation Sans, sans-serif" font-weight="700" font-size="8.8" fill="#0c0c0c" stroke="#0c0c0c" stroke-width="0.2">0</text><path d="M362 310.6 C390 310.8 412 311.2 432.8 312.2" fill="none" stroke="#2490d9" stroke-width="2" stroke-linecap="butt"/><path d="M361 336.9 C385 335.2 425 336.2 455.4 340.9" fill="none" stroke="#2490d9" stroke-width="2" stroke-linecap="butt"/><path d="M361 363.3 C395 362.6 430 363.5 455.4 366.5" fill="none" stroke="#2490d9" stroke-width="2" stroke-linecap="butt"/>
<rect x="356.0" y="278.5" width="9.9" height="10.7" fill="#2490d9"/>
<text x="366.5" y="289.1" font-family="'Liberation Sans', sans-serif" font-weight="700" font-size="14.4" fill="#2490d9" textLength="96.4" lengthAdjust="spacingAndGlyphs">LHA-06AS(1)</text>
<text font-family="'Liberation Sans', 'Noto Sans CJK JP', sans-serif" font-weight="700" font-size="8.9" fill="#0c0c0c"><tspan x="327.7" y="331.2">把</tspan><tspan x="327.8" y="339.7">持</tspan><tspan x="327.9" y="348.3">力</tspan></text>
<text transform="translate(332.20 353.20) rotate(90)" x="-0.3" y="3.16" text-anchor="middle" font-family="'Liberation Sans', sans-serif" font-weight="700" font-size="8.3" fill="#0c0c0c">(</text>
<text transform="translate(332.20 369.00) rotate(90)" x="-0.25" y="3.16" text-anchor="middle" font-family="'Liberation Sans', sans-serif" font-weight="700" font-size="8.3" fill="#0c0c0c">)</text>
<text x="332.2" y="365.2" text-anchor="middle" font-family="Liberation Sans, sans-serif" font-weight="700" font-size="8.6" fill="#0c0c0c">N</text>
<text x="374.0" y="422.7" font-family="'Liberation Sans', 'Noto Sans CJK JP', sans-serif" font-weight="700" font-size="9" fill="#0c0c0c" textLength="36.3" lengthAdjust="spacing">爪の長さ</text>
<text x="410.8" y="422.2" font-family="Liberation Sans, sans-serif" font-weight="700" font-size="8.6" fill="#0c0c0c" textLength="19.3" lengthAdjust="spacing">(cm)</text>
<line x1="390.9" y1="312.6" x2="393.5" y2="319.0" stroke="#2490d9" stroke-width="0.6"/>
<text x="383.2" y="326.9" font-family="Liberation Sans, sans-serif" font-weight="700" font-size="8.9" fill="#2490d9" stroke="#efefef" stroke-width="1.6" stroke-linejoin="round" paint-order="stroke" textLength="30.2" lengthAdjust="spacing">0.7MPa</text>
<text x="413.67" y="327.5" font-family="'Liberation Sans', 'Noto Sans CJK JP', sans-serif" font-weight="700" font-size="9" fill="#2490d9" stroke="#efefef" stroke-width="1.6" stroke-linejoin="round" paint-order="stroke">閉</text>
<line x1="390.9" y1="337.5" x2="393.5" y2="343.9" stroke="#2490d9" stroke-width="0.6"/>
<text x="383.2" y="350.9" font-family="Liberation Sans, sans-serif" font-weight="700" font-size="8.9" fill="#2490d9" stroke="#efefef" stroke-width="1.6" stroke-linejoin="round" paint-order="stroke" textLength="30.2" lengthAdjust="spacing">0.5MPa</text>
<text x="413.67" y="351.5" font-family="'Liberation Sans', 'Noto Sans CJK JP', sans-serif" font-weight="700" font-size="9" fill="#2490d9" stroke="#efefef" stroke-width="1.6" stroke-linejoin="round" paint-order="stroke">閉</text>
<line x1="390.9" y1="364.3" x2="393.5" y2="370.4" stroke="#2490d9" stroke-width="0.6"/>
<text x="383.2" y="377.8" font-family="Liberation Sans, sans-serif" font-weight="700" font-size="8.9" fill="#2490d9" stroke="#efefef" stroke-width="1.6" stroke-linejoin="round" paint-order="stroke" textLength="30.2" lengthAdjust="spacing">0.3MPa</text>
<text x="413.67" y="378.4" font-family="'Liberation Sans', 'Noto Sans CJK JP', sans-serif" font-weight="700" font-size="9" fill="#2490d9" stroke="#efefef" stroke-width="1.6" stroke-linejoin="round" paint-order="stroke">閉</text>
<text x="403.3" y="442.2" font-family="'Liberation Sans', 'Noto Sans CJK JP', sans-serif" font-size="10.2" fill="#1a1a1a" textLength="232.9" lengthAdjust="spacing">※開方向は、閉方向に対して1.3倍の把持力です。</text>
</svg>
<h1 class="h" style="left:6px;top:-4px;font-size:54px;font-weight:700;letter-spacing:-4px">LHA</h1>
<span class="h" style="left:103.8px;top:28.3px;font-size:16.8px;width:67.9px">シリーズ</span>
<span class="h" style="left:193.3px;top:19.8px;font-size:24.4px;width:221.6px">リニアガイドハンド</span>
<h2 class="h" style="left:13.3px;top:80.5px;font-size:21.4px;width:106.6px">性能データ</h2>
<h3 class="h" style="left:21.6px;top:118.2px;font-size:12.2px;width:44.5px">把持力</h3>
<span class="h" style="left:9px;top:117px;font-size:12px">■</span>
<span class="h" style="left:9px;top:135px;font-size:13.3px">供給圧力別(</span><span class="h" style="left:112px;top:135px;font-size:13.3px">)時において</span>
<span class="h" style="left:9.2px;top:154.8px;font-size:13.3px;font-family:Liberation Serif,serif">ハンドの爪の長さℓにおける開方</span>
<span class="h" style="left:9.2px;top:173.7px;font-size:13.3px;font-family:Liberation Serif,serif">向、閉方向に作用する把持力を</span>
<span class="h" style="left:9.2px;top:192.4px;font-size:13.3px;font-family:Liberation Serif,serif">表します。</span>
<span class="h" style="left:8.9px;top:219.1px;font-size:16.0px;width:50.7px">開方向</span>
<span class="h" style="left:8.9px;top:242.3px;font-size:16.0px;width:50.7px">閉方向</span>
<span class="h" style="left:58px;top:219px;font-size:16px">(⇦)</span><span class="h" style="left:58px;top:242px;font-size:16px">(➡)</span>
<span class="h" style="left:356.8px;top:118.8px;font-size:13.7px">■LHA-01AS(1)</span>
<span class="h v" style="left:329.1px;top:164.8px;font-size:8.6px">把持力( )</span>
<span class="h" style="left:375.1px;top:255.9px;font-size:9px">爪の長さ</span>
<span class="h" style="left:414.2px;top:158.0px;font-size:9px">閉</span>
<span class="h" style="left:414.2px;top:186.8px;font-size:9px">閉</span>
<span class="h" style="left:414.2px;top:210.9px;font-size:9px">閉</span>
<span class="h" style="left:506.5px;top:118.8px;font-size:13.7px">■LHA-03AS(1)</span>
<span class="h v" style="left:478.8px;top:164.8px;font-size:8.6px">把持力( )</span>
<span class="h" style="left:524.8px;top:255.9px;font-size:9px">爪の長さ</span>
<span class="h" style="left:563.7px;top:160.4px;font-size:9px">閉</span>
<span class="h" style="left:563.7px;top:186.4px;font-size:9px">閉</span>
<span class="h" style="left:563.7px;top:211.3px;font-size:9px">閉</span>
<span class="h" style="left:39.3px;top:277.6px;font-size:13.7px">■LHA-04AS(1)</span>
<span class="h v" style="left:11.6px;top:323.6px;font-size:8.6px">把持力( )</span>
<span class="h" style="left:57.6px;top:414.7px;font-size:9px">爪の長さ</span>
<span class="h" style="left:97.1px;top:318.8px;font-size:9px">閉</span>
<span class="h" style="left:97.1px;top:348.0px;font-size:9px">閉</span>
<span class="h" style="left:97.1px;top:371.3px;font-size:9px">閉</span>
<span class="h" style="left:194.5px;top:277.6px;font-size:13.7px">■LHA-05AS(1)</span>
<span class="h v" style="left:166.8px;top:323.6px;font-size:8.6px">把持力( )</span>
<span class="h" style="left:212.8px;top:414.7px;font-size:9px">爪の長さ</span>
<span class="h" style="left:252.1px;top:313.0px;font-size:9px">閉</span>
<span class="h" style="left:252.1px;top:340.8px;font-size:9px">閉</span>
<span class="h" style="left:252.1px;top:369.3px;font-size:9px">閉</span>
<span class="h" style="left:355.6px;top:277.6px;font-size:13.7px">■LHA-06AS(1)</span>
<span class="h v" style="left:327.9px;top:323.6px;font-size:8.6px">把持力( )</span>
<span class="h" style="left:373.9px;top:414.7px;font-size:9px">爪の長さ</span>
<span class="h" style="left:413.7px;top:319.4px;font-size:9px">閉</span>
<span class="h" style="left:413.7px;top:343.4px;font-size:9px">閉</span>
<span class="h" style="left:413.7px;top:370.3px;font-size:9px">閉</span>
<span class="h" style="left:403.3px;top:433.2px;font-size:10.2px;width:234.8px">※開方向は、閉方向に対して1.3倍の把持力です。</span>
</div>
</body></html>
